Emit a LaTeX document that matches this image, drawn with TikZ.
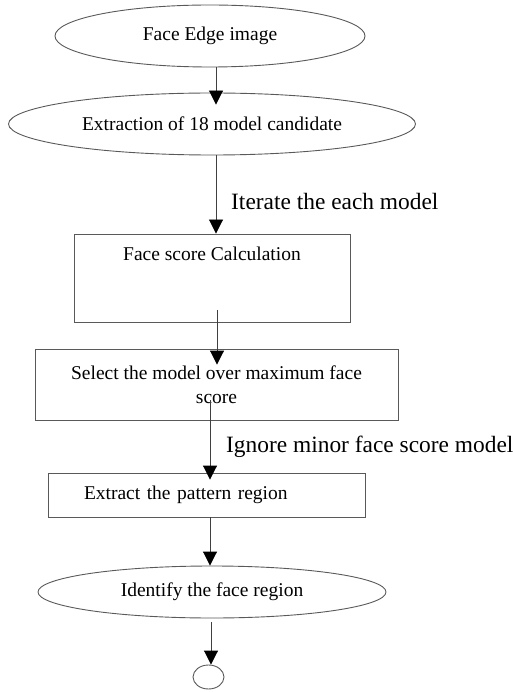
\documentclass[tikz,border=0pt]{standalone}
\usepackage{fontspec}
\setmainfont{Liberation Serif}
\usetikzlibrary{shapes.geometric,arrows.meta}
\begin{document}
\begin{tikzpicture}[x=1pt,y=-1pt,
  every node/.style={font=\fontsize{19.5}{24}\selectfont, text=black},
  oval/.style={draw=black!65, line width=0.9pt, ellipse, inner sep=0pt},
  boxnode/.style={draw=black!65, line width=0.9pt, rectangle, inner sep=0pt},
  arr/.style={draw=black!75, line width=0.9pt, -{Triangle[length=14pt,width=14pt,color=black]}},
  lab/.style={font=\fontsize{23.4}{28}\selectfont, inner sep=0pt, anchor=base west}]
\useasboundingbox (0,0) rectangle (513,692);
\node[oval, minimum width=310pt, minimum height=62pt] (e1) at (210,36) {Face Edge image};
\node[oval, minimum width=407pt, minimum height=62pt] (e2) at (212,124) {Extraction of 18 model candidate};
\node[boxnode, minimum width=276pt, text height=27pt, text depth=61pt] (b1) at (212,278) {Face score Calculation};
\node[boxnode, minimum width=363pt, minimum height=71pt, align=center] (b2) at (216.5,384.5) {Select the model over maximum face\\score};
\node[boxnode, text width=245pt, inner xsep=36pt, minimum height=44pt, align=left] (b3) at (206.5,495) {Extract the pattern region};
\node[oval, minimum width=348pt, minimum height=52pt] (e3) at (212,592) {Identify the face region};
\node[oval, minimum width=31pt, minimum height=24pt] (end) at (208.5,677) {};
\node[lab] (l1) at (231,210) {Iterate the each model};
\node[lab] (l2) at (226,452) {Ignore minor face score model};
\draw[arr, shorten >=-12pt] ([xshift=6pt]e1.south) -- ([xshift=4pt]e2.north);
\draw[arr] ([xshift=4pt]e2.south) -- ([xshift=4pt]b1.north);
\draw[arr, shorten >=-16pt] ([xshift=5pt,yshift=12pt]b1.south) -- ([xshift=0.5pt]b2.north);
\draw[arr, shorten >=-7pt] ([xshift=-6.5pt,yshift=20pt]b2.south) -- ([xshift=3.5pt]b3.north);
\draw[arr] ([xshift=3.5pt]b3.south) -- ([xshift=-2pt]e3.north);
\draw[arr, shorten <=4pt] ([xshift=-1pt]e3.south) -- ([xshift=2.5pt]end.north);
\end{tikzpicture}
\end{document}
